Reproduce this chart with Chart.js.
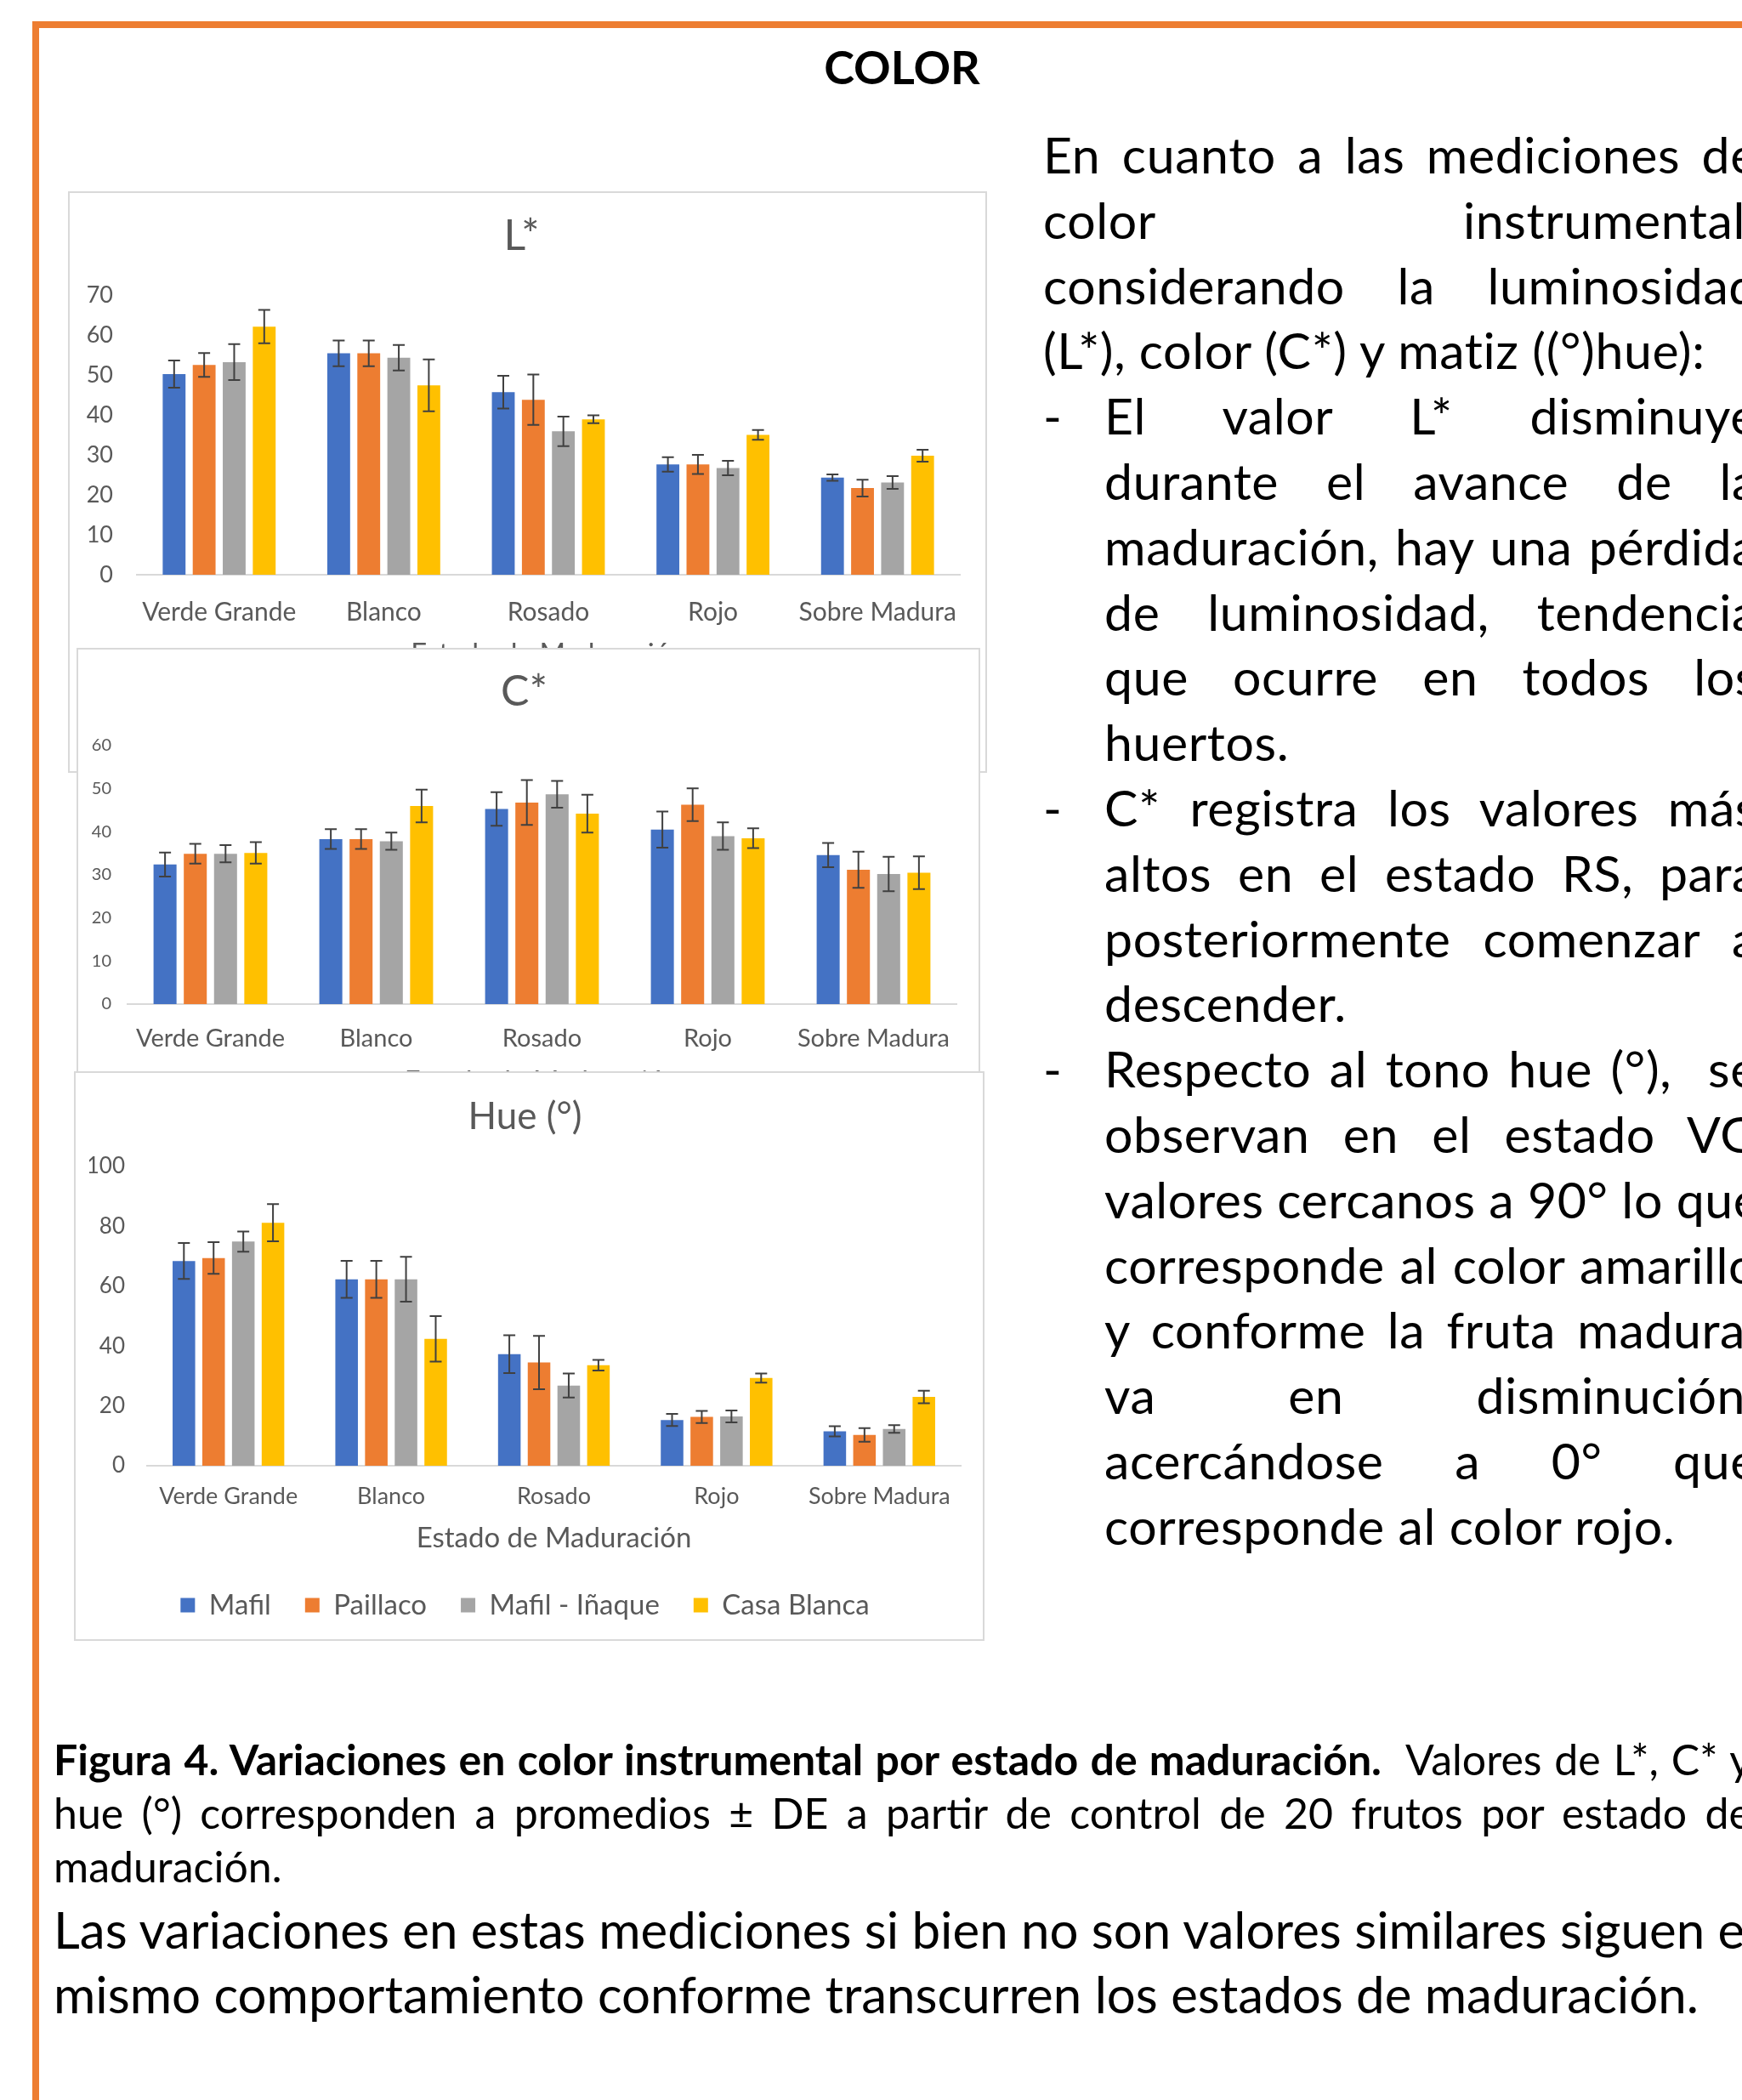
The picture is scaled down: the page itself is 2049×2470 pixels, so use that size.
<!DOCTYPE html>
<html lang="es">
<head>
<meta charset="utf-8">
<title>COLOR</title>
<script src="https://cdn.jsdelivr.net/npm/chart.js@4.4.1/dist/chart.umd.min.js"></script>
<style>
  html, body { margin: 0; padding: 0; background: #fff; }
  body { width: 2049px; height: 2470px; overflow: hidden; position: relative; font-family: Lato, "Open Sans", sans-serif; color: #000; }
  .frame { position: absolute; left: 38px; top: 25px; width: 2100px; height: 2500px; border-left: 8px solid #ed7d31; border-top: 8px solid #ed7d31; }
  .heading { position: absolute; left: 861px; width: 400px; top: 44px; text-align: center; font-weight: bold; font-size: 54px; line-height: 70px; }
  .panel { position: absolute; background: #fff; border: 2px solid #d9d9d9; }
  .panel canvas { display: block; }
  .side { position: absolute; left: 1227px; top: 144px; width: 840px; font-size: 59px; letter-spacing: 0.6px; }
  .ln { height: 76.8px; line-height: 76.8px; white-space: nowrap; position: relative; }
  .j { text-align: justify; text-align-last: justify; }
  .ind { margin-left: 72px; }
  .dash { position: absolute; left: 0; top: 0; }
  .caption { position: absolute; left: 63px; top: 2038px; width: 1997px; font-size: 50px; }
  .caption .ln { height: 63px; line-height: 63px; }
  .note { position: absolute; left: 63px; top: 2231px; font-size: 60px; }
  .note .ln { height: 76px; line-height: 76px; }
</style>
</head>
<body>
<div class="frame"></div>
<div class="heading">COLOR</div>

<div class="panel" style="left:80px; top:225px;"><canvas id="chartL" width="1077" height="680"></canvas></div>
<div class="panel" style="left:90px; top:762px;"><canvas id="chartC" width="1059" height="556"></canvas></div>
<div class="panel" style="left:87px; top:1260px;"><canvas id="chartH" width="1067" height="666"></canvas></div>

<div class="side">
  <div class="ln j">En cuanto a las mediciones de</div>
  <div class="ln j">color instrumental,</div>
  <div class="ln j">considerando la luminosidad</div>
  <div class="ln">(L*), color (C*) y matiz ((°)hue):</div>
  <div class="ln"><span class="dash">-</span><div class="ind j">El valor L* disminuye</div></div>
  <div class="ln ind j">durante el avance de la</div>
  <div class="ln ind j">maduración, hay una pérdida</div>
  <div class="ln ind j">de luminosidad, tendencia</div>
  <div class="ln ind j">que ocurre en todos los</div>
  <div class="ln ind">huertos.</div>
  <div class="ln"><span class="dash">-</span><div class="ind j">C* registra los valores más</div></div>
  <div class="ln ind j">altos en el estado RS, para</div>
  <div class="ln ind j">posteriormente comenzar a</div>
  <div class="ln ind">descender.</div>
  <div class="ln"><span class="dash">-</span><div class="ind j">Respecto al tono hue (°),&nbsp; se</div></div>
  <div class="ln ind j">observan en el estado VG</div>
  <div class="ln ind j">valores cercanos a 90° lo que</div>
  <div class="ln ind j">corresponde al color amarillo</div>
  <div class="ln ind j">y conforme la fruta madura,</div>
  <div class="ln ind j">va en disminución,</div>
  <div class="ln ind j">acercándose a 0° que</div>
  <div class="ln ind">corresponde al color rojo.</div>
</div>

<div class="caption">
  <div class="ln j"><b>Figura 4. Variaciones en color instrumental por estado de maduración.</b>&nbsp; Valores de L*, C* y</div>
  <div class="ln j">hue (°) corresponden a promedios ± DE a partir de control de 20 frutos por estado de</div>
  <div class="ln">maduración.</div>
</div>

<div class="note">
  <div class="ln">Las variaciones en estas mediciones si bien no son valores similares siguen el</div>
  <div class="ln">mismo comportamiento conforme transcurren los estados de maduración.</div>
</div>

<script>
// categories and series
const estados = ["Verde Grande", "Blanco", "Rosado", "Rojo", "Sobre Madura"];
const huertos = ["Mafil", "Paillaco", "Mafil - Iñaque", "Casa Blanca"];
const colores = ["#4472c4", "#ed7d31", "#a5a5a5", "#ffc000"];

// L* means and DE (rows: Mafil, Paillaco, Mafil - Iñaque, Casa Blanca)
const lValores = [
  [50.2, 55.4, 45.7, 27.6, 24.3],
  [52.5, 55.4, 43.8, 27.6, 21.7],
  [53.2, 54.3, 35.9, 26.7, 23.1],
  [62.1, 47.4, 38.9, 35.0, 29.8],
];
const lErrores = [
  [3.4, 3.2, 4.1, 1.8, 0.8],
  [3.0, 3.2, 6.3, 2.4, 2.1],
  [4.5, 3.2, 3.7, 1.8, 1.6],
  [4.2, 6.5, 1.0, 1.2, 1.5],
];

// C*
const cValores = [
  [32.4, 38.3, 45.3, 40.5, 34.6],
  [34.9, 38.3, 46.8, 46.3, 31.2],
  [34.9, 37.8, 48.7, 39.0, 30.2],
  [35.1, 46.0, 44.2, 38.5, 30.5],
];
const cErrores = [
  [2.8, 2.3, 3.9, 4.2, 2.8],
  [2.3, 2.3, 5.2, 3.8, 4.2],
  [2.0, 2.0, 3.1, 3.2, 4.0],
  [2.5, 3.8, 4.4, 2.3, 3.8],
];

// Hue (°)
const hValores = [
  [68.4, 62.3, 37.3, 15.3, 11.5],
  [69.4, 62.3, 34.5, 16.3, 10.3],
  [74.9, 62.3, 26.8, 16.5, 12.3],
  [81.2, 42.4, 33.6, 29.3, 23.0],
];
const hErrores = [
  [6.0, 6.2, 6.3, 2.0, 1.7],
  [5.3, 6.2, 8.9, 2.0, 2.3],
  [3.4, 7.5, 4.0, 2.0, 1.3],
  [6.2, 7.6, 1.8, 1.5, 2.1],
];

const FONT = "Lato, 'Open Sans', sans-serif";
const GRIS = "#595959";

// draws the ± DE whiskers on top of each bar
const errorBars = {
  id: "errorBars",
  afterDatasetsDraw(chart) {
    const ctx = chart.ctx;
    const y = chart.scales.y;
    ctx.save();
    ctx.strokeStyle = "#404040";
    ctx.lineWidth = 2;
    chart.data.datasets.forEach((ds, i) => {
      chart.getDatasetMeta(i).data.forEach((bar, j) => {
        const top = y.getPixelForValue(ds.data[j] + ds.errors[j]);
        const bot = y.getPixelForValue(ds.data[j] - ds.errors[j]);
        ctx.beginPath();
        ctx.moveTo(bar.x, top);
        ctx.lineTo(bar.x, bot);
        ctx.moveTo(bar.x - 7, top);
        ctx.lineTo(bar.x + 7, top);
        ctx.moveTo(bar.x - 7, bot);
        ctx.lineTo(bar.x + 7, bot);
        ctx.stroke();
      });
    });
    ctx.restore();
  },
};

function buildChart(id, valores, errores, cfg) {
  const datasets = huertos.map((name, i) => ({
    label: name,
    data: valores[i],
    errors: errores[i],
    backgroundColor: colores[i],
    categoryPercentage: 0.73,
    barPercentage: 0.76,
  }));

  return new Chart(document.getElementById(id), {
    type: "bar",
    data: { labels: estados, datasets: datasets },
    options: {
      responsive: false,
      animation: false,
      devicePixelRatio: 1,
      layout: { padding: cfg.pad },
      plugins: {
        title: {
          display: true,
          text: cfg.title,
          color: GRIS,
          font: { family: FONT, size: cfg.titleSize, weight: "normal" },
          padding: cfg.titlePad,
        },
        legend: cfg.legend
          ? {
              display: true,
              position: "bottom",
              labels: {
                boxWidth: 17,
                boxHeight: 17,
                padding: 40,
                color: GRIS,
                font: { family: FONT, size: 33 },
              },
            }
          : { display: false },
        tooltip: { enabled: false },
      },
      scales: {
        x: {
          grid: { display: false, drawTicks: false },
          border: { display: true, color: "#d9d9d9", width: 2 },
          ticks: { color: GRIS, font: { family: FONT, size: cfg.xFont }, padding: cfg.xTickPad, maxRotation: 0 },
          title: {
            display: true,
            text: "Estado de Maduración",
            color: GRIS,
            font: { family: FONT, size: 33 },
            padding: { top: 4, bottom: cfg.xTitlePad },
          },
          afterFit: (s) => { s.height = cfg.xHeight; },
        },
        y: {
          min: 0,
          max: cfg.max,
          grid: { display: false, drawTicks: false },
          border: { display: false },
          ticks: { stepSize: cfg.step, color: GRIS, font: { family: FONT, size: cfg.yFont }, padding: cfg.yTickPad },
          afterFit: (s) => { s.width = cfg.yWidth; },
        },
      },
    },
    plugins: [errorBars],
  });
}

buildChart("chartL", lValores, lErrores, {
  title: "L*", titleSize: 50, titlePad: { top: 21, bottom: 39 },
  pad: { left: 16, right: 30, top: 0, bottom: 0 },
  max: 70, step: 10, yWidth: 63, yFont: 27, yTickPad: 28,
  xHeight: 231, xFont: 30, xTickPad: 26, xTitlePad: 118,
});

buildChart("chartC", cValores, cErrores, {
  title: "C*", titleSize: 50, titlePad: { top: 20, bottom: 33 },
  pad: { left: 16, right: 26, top: 0, bottom: 0 },
  max: 60, step: 10, yWidth: 42, yFont: 20, yTickPad: 19,
  xHeight: 139, xFont: 29, xTickPad: 23.6, xTitlePad: 28,
});

buildChart("chartH", hValores, hErrores, {
  title: "Hue (°)", titleSize: 44, titlePad: { top: 25.6, bottom: 31.6 },
  pad: { left: 16, right: 26, top: 0, bottom: 13.5 },
  max: 100, step: 20, yWidth: 68, yFont: 26, yTickPad: 26,
  xHeight: 107.5, xFont: 27, xTickPad: 19.8, xTitlePad: 2.7,
  legend: true,
});
</script>
</body>
</html>
